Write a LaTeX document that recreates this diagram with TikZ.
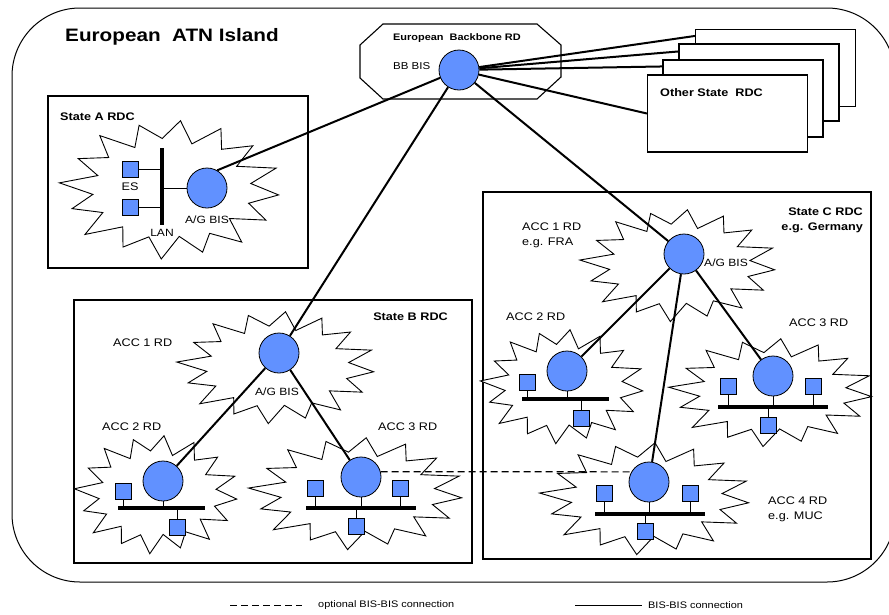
\documentclass[tikz,border=0pt]{standalone}
\usepackage{fontspec}
\setmainfont[FakeStretch=1.15]{Liberation Sans}
\usetikzlibrary{calc}
\definecolor{bisblue}{RGB}{97,145,255}
\pgfdeclarelayer{bg}
\pgfsetlayers{bg,main}
\newcommand\burstshape[4]{%
  \draw[bursty] plot[variable=\k, samples at={0,...,31}]
    ({#1+#3*(1-0.28*mod(\k,2))*(1+0.04*sin(\k*97))*cos(\k*11.25+5)},
     {#2+#4*(1-0.28*mod(\k,2))*(1+0.04*sin(\k*97))*sin(\k*11.25+5)}) -- cycle;}
\begin{document}
\begin{tikzpicture}[x=1pt,y=-1pt,
  bis/.style={circle, draw, line width=0.8pt, fill=bisblue, minimum size=40pt, inner sep=0pt},
  es/.style={rectangle, draw, line width=0.8pt, fill=bisblue, minimum size=16pt, inner sep=0pt},
  lanbar/.style={fill=black, inner sep=0pt, minimum height=4.5pt},
  rdcbox/.style={draw, line width=1.1pt, fill=white, inner sep=0pt},
  bursty/.style={draw, line width=0.9pt, fill=white, line join=miter},
  bislink/.style={line width=2pt},
  optlink/.style={line width=1.1pt, dash pattern=on 7pt off 4pt},
  lanline/.style={line width=0.9pt},
  lbl/.style={font=\fontsize{11}{15}\selectfont, inner sep=0pt, align=left},
  ttl/.style={font=\bfseries\fontsize{11}{15}\selectfont, inner sep=0pt},
  leg/.style={font=\fontsize{9.5}{12}\selectfont, inner sep=0pt}]
\clip (0,0) rectangle (889,614);

\begin{pgfonlayer}{bg}
  \draw[line width=1pt, rounded corners=68pt] (12,8) rectangle (895,582);
  \draw[line width=1.1pt] (48,96) rectangle (308,268);
  \draw[line width=1.1pt] (74,300) rectangle (472,563);
  \draw[line width=1.1pt] (483,192) rectangle (871,559);
  \draw[line width=1.1pt] (383,24) -- (537,24) -- (561,45) -- (561,77) -- (537,99)
     -- (383,99) -- (360,78) -- (360,45) -- cycle;
  \burstshape{171}{189}{108}{68}
  \burstshape{277}{367}{97}{55}
  \burstshape{157}{494}{80}{58}
  \burstshape{357}{493}{105}{55}
  \burstshape{679}{265}{96}{55}
  \burstshape{563}{386}{80}{56}
  \burstshape{772}{392}{100}{53}
  \burstshape{646}{498}{103}{55}
\end{pgfonlayer}

% titles
\node[anchor=west, inner sep=0pt, font=\bfseries\fontsize{18}{20}\selectfont] (title) at (65,37) {European\ \ ATN Island};
\node[anchor=west, inner sep=0pt, font=\bfseries\fontsize{9.5}{12}\selectfont] (bbt) at (393,38) {European\ \ Backbone RD};
\node[anchor=west, inner sep=0pt, font=\fontsize{10}{12}\selectfont] (bbl) at (393,66) {BB BIS};

% other state boxes
\node[rdcbox, minimum width=160pt, minimum height=77pt] (o4) at (775.5,68) {};
\node[rdcbox, minimum width=160pt, minimum height=77pt] (o3) at (759,82.5) {};
\node[rdcbox, minimum width=160pt, minimum height=77pt] (o2) at (743,98.5) {};
\node[rdcbox, minimum width=160pt, minimum height=77pt] (o1) at (727.5,113.5) {};
\node[ttl, anchor=west] (ot) at (660,93) {Other State\ \ RDC};
\coordinate (t4) at ($(o4.north west)+(0,7)$);
\coordinate (t3) at ($(o3.north west)+(0,8)$);
\coordinate (t2) at ($(o2.north west)+(0,7)$);
\coordinate (t1) at (o1.west);

% backbone BIS
\node[bis] (bb) at (459,70) {};

% State A
\node[ttl, anchor=west] at (60,117) {State A RDC};
\node[lanbar, minimum width=4.5pt, minimum height=77pt] (lana) at (162,186.5) {};
\node[es] (esa1) at (130,169) {};
\node[es] (esa2) at (130,207) {};
\node[bis] (aga) at (207,188) {};
\node[lbl] at (130,187) {ES};
\node[lbl, font=\fontsize{10.5}{13}\selectfont] at (207,220) {A/G BIS};
\node[lbl, font=\fontsize{10.5}{13}\selectfont] at (162,233) {LAN};

% State B
\node[ttl, anchor=east] at (448,317) {State B RDC};
\node[lbl, anchor=west] at (113,343) {ACC 1 RD};
\node[lbl, font=\fontsize{10.5}{13}\selectfont] at (277,392) {A/G BIS};
\node[lbl, anchor=west] at (102,427) {ACC 2 RD};
\node[lbl, anchor=west] at (378,427) {ACC 3 RD};
\node[bis] (b1) at (279,353) {};
\node[bis] (b2) at (163,481) {};
\node[lanbar, minimum width=87pt] (lanb2) at (161.5,508) {};
\node[es] (esb2l) at (123,491.5) {};
\node[es] (esb2b) at (177,527) {};
\node[bis] (b3) at (361,477) {};
\node[lanbar, minimum width=110pt] (lanb3) at (361,508) {};
\node[es] (esb3l) at (315.5,488.5) {};
\node[es] (esb3r) at (400.5,488.5) {};
\node[es] (esb3b) at (356,526.5) {};

% State C
\node[ttl, anchor=east, align=right] at (863,220.5) {State C RDC\\e.g. Germany};
\node[lbl, anchor=west] at (522,235.5) {ACC 1 RD\\e.g. FRA};
\node[lbl, anchor=west, font=\fontsize{10.5}{13}\selectfont] at (704,263) {A/G BIS};
\node[lbl, anchor=west] at (506,317) {ACC 2 RD};
\node[lbl, anchor=west] at (789,323) {ACC 3 RD};
\node[lbl, anchor=west] at (768,509.5) {ACC 4 RD\\e.g. MUC};
\node[bis] (c1) at (684,254) {};
\node[bis] (c2) at (567,371) {};
\node[lanbar, minimum width=87pt] (lanc2) at (565.5,399) {};
\node[es] (esc2l) at (527,382) {};
\node[es] (esc2b) at (581,418.5) {};
\node[bis] (c3) at (773,376) {};
\node[lanbar, minimum width=110pt] (lanc3) at (773,407) {};
\node[es] (esc3l) at (728,386) {};
\node[es] (esc3r) at (813,386) {};
\node[es] (esc3b) at (768,425) {};
\node[bis] (c4) at (649,482) {};
\node[lanbar, minimum width=110pt] (lanc4) at (650,514) {};
\node[es] (esc4l) at (604.5,493.5) {};
\node[es] (esc4r) at (690,493.5) {};
\node[es] (esc4b) at (645,531.5) {};

% legend
\coordinate (ld1) at (230,605);
\coordinate (ld2) at (302,605);
\node[leg, anchor=west] (lt1) at (318,605) {optional BIS-BIS connection};
\coordinate (ls1) at (575,605);
\coordinate (ls2) at (642,605);
\node[leg, anchor=west] (lt2) at (648,605) {BIS-BIS connection};

\begin{pgfonlayer}{bg}
  % backbone links
  \draw[bislink] (bb) -- (t4);
  \draw[bislink] (bb) -- (t3);
  \draw[bislink] (bb) -- (t2);
  \draw[bislink] (bb) -- (t1);
  \draw[bislink] (bb) -- (aga.60);
  \draw[bislink] (bb) -- (b1);
  \draw[bislink] (bb) -- (c1);
  \draw[bislink] (b1) -- (b2);
  \draw[bislink] (b1) -- (b3);
  \draw[bislink] (c1) -- (c2);
  \draw[bislink] (c1) -- (c3);
  \draw[bislink] (c1) -- (c4);
  \draw[optlink] (b3.15) -- (c4.150);
  % LAN drops
  \draw[lanline] (esa1.east) -- (esa1.east -| lana);
  \draw[lanline] (esa2.east) -- (esa2.east -| lana);
  \draw[lanline] (aga.west) -- (aga.west -| lana);
  \foreach \n/\l in {b2/lanb2, esb2l/lanb2, esb2b/lanb2, b3/lanb3, esb3l/lanb3, esb3r/lanb3, esb3b/lanb3,
                     c2/lanc2, esc2l/lanc2, esc2b/lanc2, c3/lanc3, esc3l/lanc3, esc3r/lanc3, esc3b/lanc3,
                     c4/lanc4, esc4l/lanc4, esc4r/lanc4, esc4b/lanc4}
    \draw[lanline] (\n) -- (\n |- \l);
  % legend lines
  \draw[line width=1pt, dash pattern=on 7pt off 4pt] (ld1) -- (ld2);
  \draw[line width=1pt] (ls1) -- (ls2);
\end{pgfonlayer}
\end{tikzpicture}
\end{document}
